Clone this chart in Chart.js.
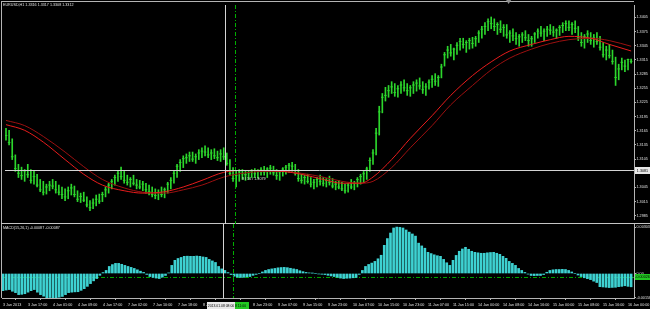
<!DOCTYPE html>
<html><head><meta charset="utf-8">
<script src="https://cdn.jsdelivr.net/npm/chart.js@4.4.1/dist/chart.umd.min.js"></script>
<style>
html,body{margin:0;padding:0;background:#000;overflow:hidden;}
#wrap{position:relative;width:650px;height:309px;background:#000;}
#c1{position:absolute;left:0;top:0;}
#c2{position:absolute;left:0;top:224px;}
</style></head><body>
<div id="wrap">
<canvas id="c1" width="650" height="224"></canvas>
<canvas id="c2" width="650" height="85"></canvas>
</div>
<script>
// ---------- data ----------
const symbol = 'EURUSD,H1';
const lastOpen = 1.3316;
const timeTickBars = [0,8,16,24,32,40,48,56,64,72,80,88,96,104,112,120,128,136,144,152,160,168,176,184,192,200];
const timeTickLabels = ['3 Jan 2013','3 Jan 17:00','4 Jan 01:00','4 Jan 09:00','4 Jan 17:00','7 Jan 02:00','7 Jan 10:00','7 Jan 18:00',
  '8 Jan 02:00','8 Jan 10:00','8 Jan 23:00','9 Jan 07:00','9 Jan 15:00','9 Jan 23:00','10 Jan 07:00','10 Jan 15:00','10 Jan 23:00',
  '11 Jan 07:00','11 Jan 15:00','14 Jan 00:00','14 Jan 08:00','14 Jan 16:00','15 Jan 00:00','15 Jan 08:00','15 Jan 16:00','16 Jan 00:00'];
const priceTicks = [1.3405,1.3375,1.3345,1.3315,1.3285,1.3255,1.3225,1.3195,1.3165,1.3135,1.3105,1.3075,1.3045,1.3015,1.2985];
const macdTicks = [0.00303,0,-0.00158];

const high = [
1.3170,1.3166,1.3148,1.3114,1.3094,1.3088,1.3083,1.3094,1.3083,1.3079,
1.3073,1.3062,1.3058,1.3052,1.3058,1.3062,1.3058,1.3050,1.3046,1.3042,
1.3046,1.3052,1.3048,1.3038,1.3033,1.3035,1.3025,1.3017,1.3021,1.3029,
1.3031,1.3035,1.3046,1.3054,1.3062,1.3071,1.3079,1.3088,1.3079,1.3071,
1.3066,1.3071,1.3062,1.3060,1.3058,1.3054,1.3050,1.3046,1.3042,1.3040,
1.3046,1.3044,1.3056,1.3066,1.3079,1.3094,1.3104,1.3112,1.3116,1.3120,
1.3120,1.3116,1.3125,1.3129,1.3133,1.3129,1.3125,1.3127,1.3122,1.3125,
1.3129,1.3118,1.3104,1.3087,1.3079,1.3083,1.3083,1.3081,1.3079,1.3083,
1.3085,1.3083,1.3087,1.3090,1.3087,1.3092,1.3090,1.3083,1.3081,1.3087,
1.3092,1.3096,1.3098,1.3094,1.3083,1.3073,1.3071,1.3073,1.3066,1.3062,
1.3066,1.3071,1.3066,1.3064,1.3069,1.3064,1.3058,1.3060,1.3056,1.3052,
1.3054,1.3062,1.3058,1.3066,1.3073,1.3079,1.3088,1.3108,1.3125,1.3170,
1.3217,1.3244,1.3257,1.3261,1.3269,1.3265,1.3261,1.3269,1.3273,1.3265,
1.3261,1.3269,1.3273,1.3277,1.3269,1.3265,1.3273,1.3282,1.3286,1.3282,
1.3306,1.3331,1.3344,1.3348,1.3340,1.3352,1.3361,1.3361,1.3356,1.3361,
1.3363,1.3365,1.3377,1.3386,1.3394,1.3402,1.3406,1.3402,1.3394,1.3398,
1.3390,1.3390,1.3377,1.3381,1.3373,1.3369,1.3373,1.3377,1.3369,1.3365,
1.3373,1.3381,1.3386,1.3381,1.3386,1.3390,1.3386,1.3381,1.3388,1.3394,
1.3398,1.3398,1.3394,1.3398,1.3386,1.3373,1.3369,1.3377,1.3373,1.3369,
1.3373,1.3365,1.3352,1.3344,1.3348,1.3336,1.3321,1.3306,1.3319,1.3315,
1.3317,1.3317];
const low = [
1.3145,1.3135,1.3104,1.3079,1.3066,1.3062,1.3058,1.3066,1.3054,1.3052,
1.3046,1.3036,1.3029,1.3031,1.3038,1.3042,1.3033,1.3029,1.3021,1.3017,
1.3021,1.3029,1.3025,1.3015,1.3013,1.3015,1.3004,1.2996,1.3000,1.3006,
1.3011,1.3015,1.3025,1.3033,1.3042,1.3050,1.3058,1.3062,1.3054,1.3050,
1.3046,1.3050,1.3042,1.3042,1.3038,1.3033,1.3029,1.3025,1.3021,1.3019,
1.3025,1.3023,1.3033,1.3042,1.3054,1.3066,1.3079,1.3087,1.3096,1.3100,
1.3100,1.3096,1.3104,1.3108,1.3112,1.3108,1.3104,1.3106,1.3102,1.3100,
1.3104,1.3092,1.3071,1.3058,1.3046,1.3058,1.3062,1.3060,1.3062,1.3066,
1.3066,1.3064,1.3071,1.3071,1.3066,1.3073,1.3071,1.3062,1.3060,1.3069,
1.3073,1.3077,1.3079,1.3071,1.3058,1.3054,1.3052,1.3054,1.3046,1.3042,
1.3046,1.3050,1.3048,1.3046,1.3050,1.3044,1.3040,1.3042,1.3038,1.3033,
1.3035,1.3042,1.3040,1.3046,1.3052,1.3056,1.3062,1.3079,1.3094,1.3114,
1.3156,1.3203,1.3228,1.3236,1.3244,1.3238,1.3236,1.3244,1.3249,1.3240,
1.3238,1.3244,1.3249,1.3253,1.3244,1.3240,1.3253,1.3257,1.3261,1.3259,
1.3277,1.3302,1.3319,1.3323,1.3315,1.3327,1.3336,1.3340,1.3331,1.3338,
1.3340,1.3344,1.3352,1.3361,1.3369,1.3377,1.3381,1.3377,1.3369,1.3373,
1.3365,1.3361,1.3352,1.3356,1.3348,1.3344,1.3352,1.3356,1.3344,1.3344,
1.3352,1.3361,1.3365,1.3356,1.3365,1.3369,1.3365,1.3361,1.3367,1.3373,
1.3377,1.3377,1.3369,1.3373,1.3356,1.3344,1.3340,1.3352,1.3348,1.3342,
1.3348,1.3336,1.3321,1.3315,1.3319,1.3306,1.3261,1.3273,1.3294,1.3290,
1.3294,1.3308];
const close = [
1.3155,1.3140,1.3110,1.3085,1.3075,1.3070,1.3080,1.3072,1.3060,1.3068,
1.3050,1.3040,1.3035,1.3046,1.3050,1.3048,1.3040,1.3035,1.3030,1.3025,
1.3038,1.3044,1.3030,1.3020,1.3026,1.3018,1.3008,1.3002,1.3012,1.3020,
1.3016,1.3030,1.3040,1.3050,1.3058,1.3066,1.3075,1.3068,1.3060,1.3056,
1.3062,1.3054,1.3050,1.3046,1.3052,1.3040,1.3036,1.3030,1.3028,1.3034,
1.3030,1.3040,1.3052,1.3060,1.3075,1.3090,1.3098,1.3106,1.3108,1.3112,
1.3105,1.3110,1.3118,1.3122,1.3120,1.3114,1.3118,1.3112,1.3108,1.3116,
1.3110,1.3096,1.3075,1.3064,1.3070,1.3078,1.3074,1.3072,1.3076,1.3078,
1.3074,1.3080,1.3082,1.3078,1.3084,1.3086,1.3076,1.3070,1.3078,1.3084,
1.3088,1.3092,1.3090,1.3076,1.3064,1.3060,1.3066,1.3058,1.3052,1.3056,
1.3062,1.3058,1.3054,1.3060,1.3056,1.3048,1.3052,1.3046,1.3042,1.3038,
1.3050,1.3046,1.3054,1.3062,1.3068,1.3074,1.3084,1.3102,1.3118,1.3160,
1.3205,1.3236,1.3240,1.3250,1.3258,1.3246,1.3254,1.3262,1.3256,1.3250,
1.3256,1.3262,1.3266,1.3260,1.3252,1.3258,1.3268,1.3274,1.3270,1.3278,
1.3300,1.3326,1.3336,1.3330,1.3338,1.3346,1.3354,1.3348,1.3352,1.3356,
1.3350,1.3360,1.3372,1.3380,1.3386,1.3396,1.3392,1.3386,1.3390,1.3380,
1.3384,1.3368,1.3372,1.3366,1.3360,1.3364,1.3368,1.3362,1.3356,1.3360,
1.3370,1.3376,1.3372,1.3376,1.3380,1.3378,1.3374,1.3378,1.3384,1.3388,
1.3392,1.3384,1.3390,1.3382,1.3362,1.3352,1.3364,1.3370,1.3356,1.3362,
1.3354,1.3342,1.3326,1.3336,1.3324,1.3312,1.3278,1.3296,1.3310,1.3302,
1.3316,1.3312];

const maBars = [0,6,12,19,25,31,38,44,51,57,63,70,76,83,89,95,102,108,114,118,124,130,137,143,150,156,162,169,175,181,188,194,201];
const maFast = [1.3178,1.3166,1.3141,1.3104,1.3073,1.3050,1.3038,1.3033,1.3036,1.3046,1.3060,1.3077,1.3081,1.3081,1.3079,1.3073,1.3062,
  1.3054,1.3054,1.3067,1.3104,1.3149,1.3197,1.3240,1.3282,1.3311,1.3334,1.3348,1.3358,1.3365,1.3361,1.3348,1.3334];
const maSlow = [1.3187,1.3176,1.3153,1.3120,1.3089,1.3062,1.3044,1.3035,1.3033,1.3040,1.3050,1.3067,1.3075,1.3079,1.3079,1.3075,1.3067,
  1.3058,1.3054,1.3058,1.3087,1.3129,1.3176,1.3220,1.3261,1.3294,1.3319,1.3338,1.3350,1.3358,1.3361,1.3356,1.3344];

const macdHist = [
-0.00112,-0.00108,-0.00105,-0.00116,-0.00125,-0.00138,-0.00136,-0.00132,-0.00122,-0.00112,
-0.00105,-0.00122,-0.00138,-0.00148,-0.00158,-0.00157,-0.00158,-0.00158,-0.00155,-0.00150,
-0.00138,-0.00125,-0.00122,-0.00120,-0.00119,-0.00110,-0.00099,-0.00084,-0.00066,-0.00048,
-0.00033,-0.00012,0.00006,0.00020,0.00046,0.00058,0.00066,0.00066,0.00060,0.00053,
0.00046,0.00040,0.00033,0.00024,0.00015,0.00007,-0.00006,-0.00020,-0.00026,-0.00030,
-0.00033,-0.00024,-0.00013,0.00004,0.00053,0.00086,0.00098,0.00105,0.00112,0.00113,
0.00112,0.00112,0.00114,0.00112,0.00108,0.00105,0.00092,0.00082,0.00072,0.00046,
0.00030,0.00020,0.00006,-0.00007,-0.00018,-0.00024,-0.00026,-0.00025,-0.00022,-0.00020,
-0.00012,-0.00006,0.00000,0.00010,0.00020,0.00026,0.00030,0.00033,0.00037,0.00039,
0.00040,0.00038,0.00034,0.00030,0.00026,0.00018,0.00012,0.00007,0.00004,0.00002,
0.00000,-0.00003,-0.00005,-0.00007,-0.00012,-0.00016,-0.00020,-0.00025,-0.00030,-0.00033,
-0.00031,-0.00030,-0.00028,-0.00026,-0.00006,0.00020,0.00046,0.00059,0.00068,0.00079,
0.00096,0.00119,0.00184,0.00228,0.00264,0.00297,0.00303,0.00301,0.00297,0.00284,
0.00270,0.00258,0.00244,0.00198,0.00180,0.00165,0.00138,0.00130,0.00122,0.00116,
0.00112,0.00092,0.00070,0.00053,0.00086,0.00118,0.00145,0.00160,0.00171,0.00158,
0.00145,0.00138,0.00135,0.00132,0.00132,0.00135,0.00137,0.00138,0.00132,0.00125,
0.00112,0.00099,0.00079,0.00066,0.00053,0.00033,0.00020,0.00007,-0.00004,-0.00013,
-0.00014,-0.00013,-0.00013,-0.00007,0.00008,0.00020,0.00024,0.00026,0.00026,0.00027,
0.00026,0.00020,0.00010,0.00000,-0.00010,-0.00020,-0.00028,-0.00034,-0.00040,-0.00050,
-0.00059,-0.00086,-0.00088,-0.00090,-0.00092,-0.00091,-0.00090,-0.00086,-0.00084,-0.00080,
-0.00084,-0.00087];
const macdLevel = -0.00026;
const crosshair = {bar: 70.4, price: 1.3081};
const crossInfo = '9 / 16 / 1.3079';
const crossTime = '2013.01.08 08:00';
const vlineBar = 73.7;
const vlineTime = '2013.01.08 11:00';
const shiftBar = 161.6;

// ---------- styling ----------
const FONT_FAMILY = '"Liberation Sans", Arial, sans-serif';
const FS = 3.7;
const FONT = FS + 'px ' + FONT_FAMILY;
const TXT = '#e0e0e0';
const FRAME = '#b4b4b4';
const BARCOL = '#2cd62c';
const XMIN = -0.32, XMAX = 201.92;
Chart.defaults.font.family = FONT_FAMILY;

function vline(ctx, x, y0, y1, color, dash) {
  ctx.save(); ctx.strokeStyle = color; ctx.lineWidth = 1; ctx.setLineDash(dash || []);
  const xx = Math.round(x) + 0.5; ctx.beginPath(); ctx.moveTo(xx, y0); ctx.lineTo(xx, y1); ctx.stroke(); ctx.restore();
}
function hline(ctx, y, x0, x1, color, dash) {
  ctx.save(); ctx.strokeStyle = color; ctx.lineWidth = 1; ctx.setLineDash(dash || []);
  const yy = Math.round(y) + 0.5; ctx.beginPath(); ctx.moveTo(x0, yy); ctx.lineTo(x1, yy); ctx.stroke(); ctx.restore();
}
function box(ctx, x, y, w, h, bg, text, color, size) {
  ctx.save(); ctx.fillStyle = bg; ctx.fillRect(x, y, w, h);
  ctx.fillStyle = color; ctx.font = (size || FS) + 'px ' + FONT_FAMILY; ctx.textBaseline = 'middle'; ctx.textAlign = 'center';
  ctx.fillText(text, x + w / 2, y + h / 2 + 0.2); ctx.restore();
}

const overlay1 = {
  id: 'overlay1',
  afterDraw(chart) {
    const ctx = chart.ctx, a = chart.chartArea, xs = chart.scales.x, ys = chart.scales.y;
    ctx.save();
    ctx.fillStyle = FRAME;
    ctx.fillRect(1, 1, a.right - 1, 1);
    ctx.fillRect(1, 1, 1, 223);
    ctx.fillStyle = '#c4c4c4';
    ctx.fillRect(1, 223, 649, 1);
    const gx = xs.getPixelForValue(vlineBar);
    vline(ctx, gx, a.top, 224, '#00b000', [4, 2, 1, 2]);
    const cx = xs.getPixelForValue(crosshair.bar), cy = ys.getPixelForValue(crosshair.price);
    vline(ctx, cx, a.top, 224, '#d4d4d4');
    hline(ctx, cy, a.left, a.right, '#d4d4d4');
    box(ctx, a.right + 1, Math.round(cy) - 3, 15, 7, '#e8e8e8', crosshair.price.toFixed(4), '#000');
    ctx.fillStyle = TXT; ctx.font = FONT; ctx.textBaseline = 'middle'; ctx.textAlign = 'left';
    ctx.fillText(crossInfo, cx + 17, cy + 9);
    const last = close.length - 1;
    const header = symbol + ' ' + lastOpen.toFixed(4) + ' ' + high[last].toFixed(4) + ' ' + low[last].toFixed(4) + ' ' + close[last].toFixed(4);
    ctx.fillText(header, 3, 4.8);
    const sx = xs.getPixelForValue(shiftBar);
    ctx.fillStyle = '#909090';
    ctx.beginPath(); ctx.moveTo(sx - 2.5, 0); ctx.lineTo(sx + 2.5, 0); ctx.lineTo(sx, 4); ctx.closePath(); ctx.fill();
    ctx.restore();
  }
};

const overlay2 = {
  id: 'overlay2',
  afterDraw(chart) {
    const ctx = chart.ctx, a = chart.chartArea, xs = chart.scales.x, ys = chart.scales.y;
    ctx.save();
    ctx.fillStyle = FRAME;
    ctx.fillRect(1, 0, 1, a.bottom);
    ctx.fillRect(a.right, 0, 1, a.top);
    const gx = xs.getPixelForValue(vlineBar);
    vline(ctx, gx, 0, a.bottom, '#00b000', [4, 2, 1, 2]);
    const cx = xs.getPixelForValue(crosshair.bar);
    vline(ctx, cx, 0, a.bottom, '#d4d4d4');
    const ly = ys.getPixelForValue(macdLevel);
    box(ctx, a.right + 1, Math.round(ly) - 3, 15, 6, '#22c822', macdLevel.toFixed(5), '#000');
    box(ctx, Math.round(gx) - 16, a.bottom + 4, 32, 7, '#22c822', vlineTime, '#000', 3.4);
    box(ctx, Math.round(cx) - 16, a.bottom + 4, 28, 7, '#e8e8e8', crossTime, '#000', 3.4);
    ctx.fillStyle = TXT; ctx.font = FONT; ctx.textBaseline = 'middle'; ctx.textAlign = 'left';
    const lv = macdHist[macdHist.length - 1].toFixed(5);
    ctx.fillText('MACD(15,26,1) ' + lv + ' ' + lv, 3, 3.6);
    ctx.restore();
  }
};

// ---------- price window ----------
new Chart(document.getElementById('c1'), {
  type: 'bar',
  data: {
    datasets: [
      { type: 'line', data: maBars.map((b, k) => ({x: b, y: maFast[k]})), borderColor: '#e81c1c', borderWidth: 1,
        pointRadius: 0, cubicInterpolationMode: 'monotone', order: 0 },
      { type: 'line', data: maBars.map((b, k) => ({x: b, y: maSlow[k]})), borderColor: '#9c1010', borderWidth: 1,
        pointRadius: 0, cubicInterpolationMode: 'monotone', order: 1 },
      { type: 'bar', data: high.map((h, i) => ({x: i, y: [low[i], h]})), backgroundColor: BARCOL, barThickness: 1, order: 3 },
      { type: 'scatter', data: close.map((c, i) => ({x: i, y: c})), pointStyle: 'line', pointRadius: 1.3,
        borderColor: BARCOL, borderWidth: 1, order: 2 }
    ]
  },
  options: {
    responsive: false, animation: false, events: [],
    layout: { padding: { left: 2, top: 2, right: 0, bottom: 2 } },
    plugins: { legend: { display: false }, tooltip: { enabled: false }, title: { display: false } },
    scales: {
      x: { type: 'linear', display: false, min: XMIN, max: XMAX, offset: false },
      y: {
        position: 'right', min: 1.29782, max: 1.34314, beginAtZero: false,
        afterBuildTicks: s => { s.ticks = priceTicks.map(v => ({value: v})); },
        afterFit: s => { s.width = 16; s.paddingTop = 0; s.paddingBottom = 0; },
        ticks: { color: TXT, font: { size: FS }, padding: 0.5, autoSkip: false, callback: v => Number(v).toFixed(4) },
        grid: { drawOnChartArea: false, drawTicks: true, tickLength: 2, color: FRAME },
        border: { display: true, color: FRAME }
      }
    }
  },
  plugins: [overlay1]
});

// ---------- MACD window ----------
new Chart(document.getElementById('c2'), {
  type: 'bar',
  data: {
    datasets: [
      { type: 'bar', data: macdHist.map((v, i) => ({x: i, y: v})), backgroundColor: '#3ed2d2', barThickness: 2, order: 0 },
      { type: 'line', data: [{x: XMIN, y: macdLevel}, {x: XMAX, y: macdLevel}], borderColor: '#00a800', borderWidth: 1,
        borderDash: [4, 2, 1, 2], pointRadius: 0, order: 1 }
    ]
  },
  options: {
    responsive: false, animation: false, events: [],
    layout: { padding: { left: 2, top: 2, right: 0, bottom: 0 } },
    plugins: { legend: { display: false }, tooltip: { enabled: false } },
    scales: {
      x: {
        type: 'linear', position: 'bottom', min: XMIN, max: XMAX, offset: false,
        afterBuildTicks: s => { s.ticks = timeTickBars.map(v => ({value: v})); },
        afterFit: s => { s.height = 11; s.paddingLeft = 0; s.paddingRight = 0; },
        ticks: { align: 'start', maxRotation: 0, minRotation: 0, autoSkip: false, color: TXT, font: { size: FS }, padding: 2.5,
          callback: (v, i) => timeTickLabels[i] },
        grid: { drawOnChartArea: false, drawTicks: true, tickLength: 2, color: FRAME },
        border: { display: true, color: FRAME }
      },
      y: {
        position: 'right', min: -0.00160, max: 0.00310, beginAtZero: false,
        afterBuildTicks: s => { s.ticks = macdTicks.map(v => ({value: v})); },
        afterFit: s => { s.width = 16; s.paddingTop = 0; s.paddingBottom = 0; },
        ticks: { color: TXT, font: { size: FS }, padding: 0.5, autoSkip: false,
          callback: v => (v === 0 ? '0.00' : Number(v).toFixed(5)) },
        grid: { drawOnChartArea: false, drawTicks: true, tickLength: 2, color: FRAME },
        border: { display: true, color: FRAME }
      }
    }
  },
  plugins: [overlay2]
});
</script>
</body></html>
